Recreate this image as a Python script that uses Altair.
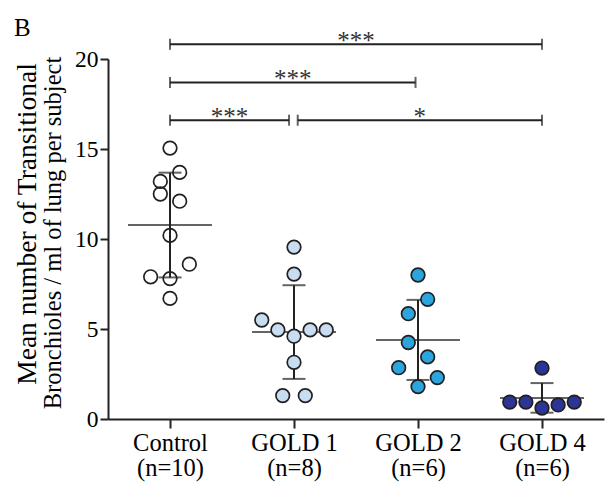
import altair as alt
import pandas as pd

# ---------------- data ----------------
groups = ["Control", "GOLD 1", "GOLD 2", "GOLD 4"]
group_n = ["(n=10)", "(n=8)", "(n=6)", "(n=6)"]

control = [15.05, 13.7, 13.2, 12.5, 12.1, 10.2, 8.6, 7.9, 7.8, 6.7]
gold1 = [9.55, 8.05, 5.5, 4.95, 4.6, 4.95, 4.95, 3.15, 1.3, 1.3]
gold2 = [8.0, 6.65, 5.85, 4.25, 3.45, 2.85, 2.3, 1.8]
gold4 = [2.83, 0.94, 0.94, 0.61, 0.78, 0.94]

# beeswarm slot of each point (in circle widths, left < 0 < right)
control_slot = [0, 0.6, -0.6, -0.6, 0.6, 0, 1.2, -1.2, 0, 0]
gold1_slot = [0, 0, -2, -1, 0, 1, 2, 0, -0.7, 0.7]
gold2_slot = [0, 0.6, -0.6, -0.6, 0.6, -1.2, 1.2, 0]
gold4_slot = [0, -2, -1, 0, 1, 2]

# significance brackets (group index positions)
bracket_from = [0, 0, 0, 1.03]
bracket_to = [3, 1.98, 0.96, 3]
bracket_level = [20.82, 18.7, 16.6, 16.6]
bracket_label = ["***", "***", "***", "*"]

y_title = ["Mean number of Transitional", "Bronchioles / ml of lung per subject"]

fills = ["transparent", "#c7ddf2", "#2aa5dd", "#2b3595"]
FONT = "Liberation Serif"
SLOT = 0.13

# ---------------- tables ----------------
rows = []
for gi, (vals, slots) in enumerate(zip([control, gold1, gold2, gold4],
                                       [control_slot, gold1_slot, gold2_slot, gold4_slot])):
    for v, s in zip(vals, slots):
        rows.append({"group": groups[gi], "idx": gi, "x": gi + s * SLOT, "value": v})
pts = pd.DataFrame(rows)

br = pd.DataFrame({"x1": bracket_from, "x2": bracket_to, "level": bracket_level,
                   "label": bracket_label})
br["mid"] = (br["x1"] + br["x2"]) / 2
ends = pd.DataFrame({"x": bracket_from + bracket_to, "level": bracket_level * 2})

label_map = "{" + ",".join(f"'{i}': ['{g}', '{n}']" for i, (g, n) in enumerate(zip(groups, group_n))) + "}"

xscale = alt.Scale(domain=[-0.5, 3.5], nice=False, zero=False)
yscale = alt.Scale(domain=[0, 20], nice=False)

xaxis = alt.Axis(values=[0, 1, 2, 3], labelExpr=f"{label_map}[datum.value + '']",
                 labelFont=FONT, labelFontSize=24.5, labelLineHeight=25, labelColor="black",
                 labelOverlap=False, labelFlush=False, labelPadding=3,
                 tickSize=9, tickWidth=2, tickColor="#222", domainWidth=2, domainColor="#222",
                 grid=False, title=None)
yaxis = alt.Axis(values=[0, 5, 10, 15, 20], labelFont=FONT, labelFontSize=23.5, labelColor="black",
                 labelPadding=2, tickSize=8, tickWidth=2, tickColor="#222",
                 domainWidth=2, domainColor="#222", grid=False, title=None)

X = lambda f: alt.X(f, scale=xscale, axis=xaxis)
Y = lambda f: alt.Y(f, scale=yscale, axis=yaxis)

base = alt.Chart(pts)
stats = base.transform_aggregate(
    m="mean(value)", sd="stdev(value)", groupby=["idx"]
).transform_calculate(lo="datum.m - datum.sd", hi="datum.m + datum.sd")

err = stats.mark_rule(color="#222", strokeWidth=2).encode(x=X("idx:Q"), y=Y("lo:Q"), y2="hi:Q")
caps_hi = stats.mark_tick(orient="horizontal", size=23, thickness=2, color="#222").encode(
    x=X("idx:Q"), y=Y("hi:Q"))
caps_lo = stats.mark_tick(orient="horizontal", size=23, thickness=2, color="#222").encode(
    x=X("idx:Q"), y=Y("lo:Q"))
mean_line = stats.mark_tick(orient="horizontal", size=84, thickness=2, color="#222").encode(
    x=X("idx:Q"), y=Y("m:Q"))

points = base.mark_point(shape="circle", size=185, filled=False, strokeWidth=1.7,
                         stroke="#231f20", opacity=1).encode(
    x=X("x:Q"), y=Y("value:Q"),
    fill=alt.Fill("group:N", scale=alt.Scale(domain=groups, range=fills), legend=None),
)

brk = alt.Chart(br).mark_rule(color="#222", strokeWidth=2, clip=False).encode(
    x=X("x1:Q"), x2="x2:Q", y=Y("level:Q"))
brk_ends = alt.Chart(ends).mark_tick(orient="vertical", size=11, thickness=2, color="#222",
                                     clip=False).encode(x=X("x:Q"), y=Y("level:Q"))
stars = alt.Chart(br).mark_text(font=FONT, fontSize=25, color="#333", baseline="alphabetic",
                                align="center", dy=5, clip=False).encode(
    x=X("mid:Q"), y=Y("level:Q"), text="label:N")

panel = alt.Chart(pd.DataFrame({"t": ["B"]})).mark_text(
    font=FONT, fontSize=25, color="black", align="left", baseline="alphabetic").encode(
    x=alt.value(-94), y=alt.value(-23), text="t:N")

title1 = alt.Chart(pd.DataFrame({"t": [y_title[0]]})).mark_text(
    font=FONT, fontSize=27.5, color="black", align="center", baseline="alphabetic", angle=270).encode(
    x=alt.value(-72), y=alt.value(165), text="t:N")
title2 = alt.Chart(pd.DataFrame({"t": [y_title[1]]})).mark_text(
    font=FONT, fontSize=24.5, color="black", align="center", baseline="alphabetic", angle=270).encode(
    x=alt.value(-47), y=alt.value(174), text="t:N")

chart = alt.layer(err, caps_hi, caps_lo, mean_line, points, brk, brk_ends, stars, panel,
                  title1, title2).properties(
    width=496, height=360,
    padding={"left": 108, "top": 59, "right": 9, "bottom": 79},
    autosize=alt.AutoSizeParams(type="none"),
).configure_view(stroke=None)

chart.save("out.html", embed_options={"renderer": "svg", "actions": False})
